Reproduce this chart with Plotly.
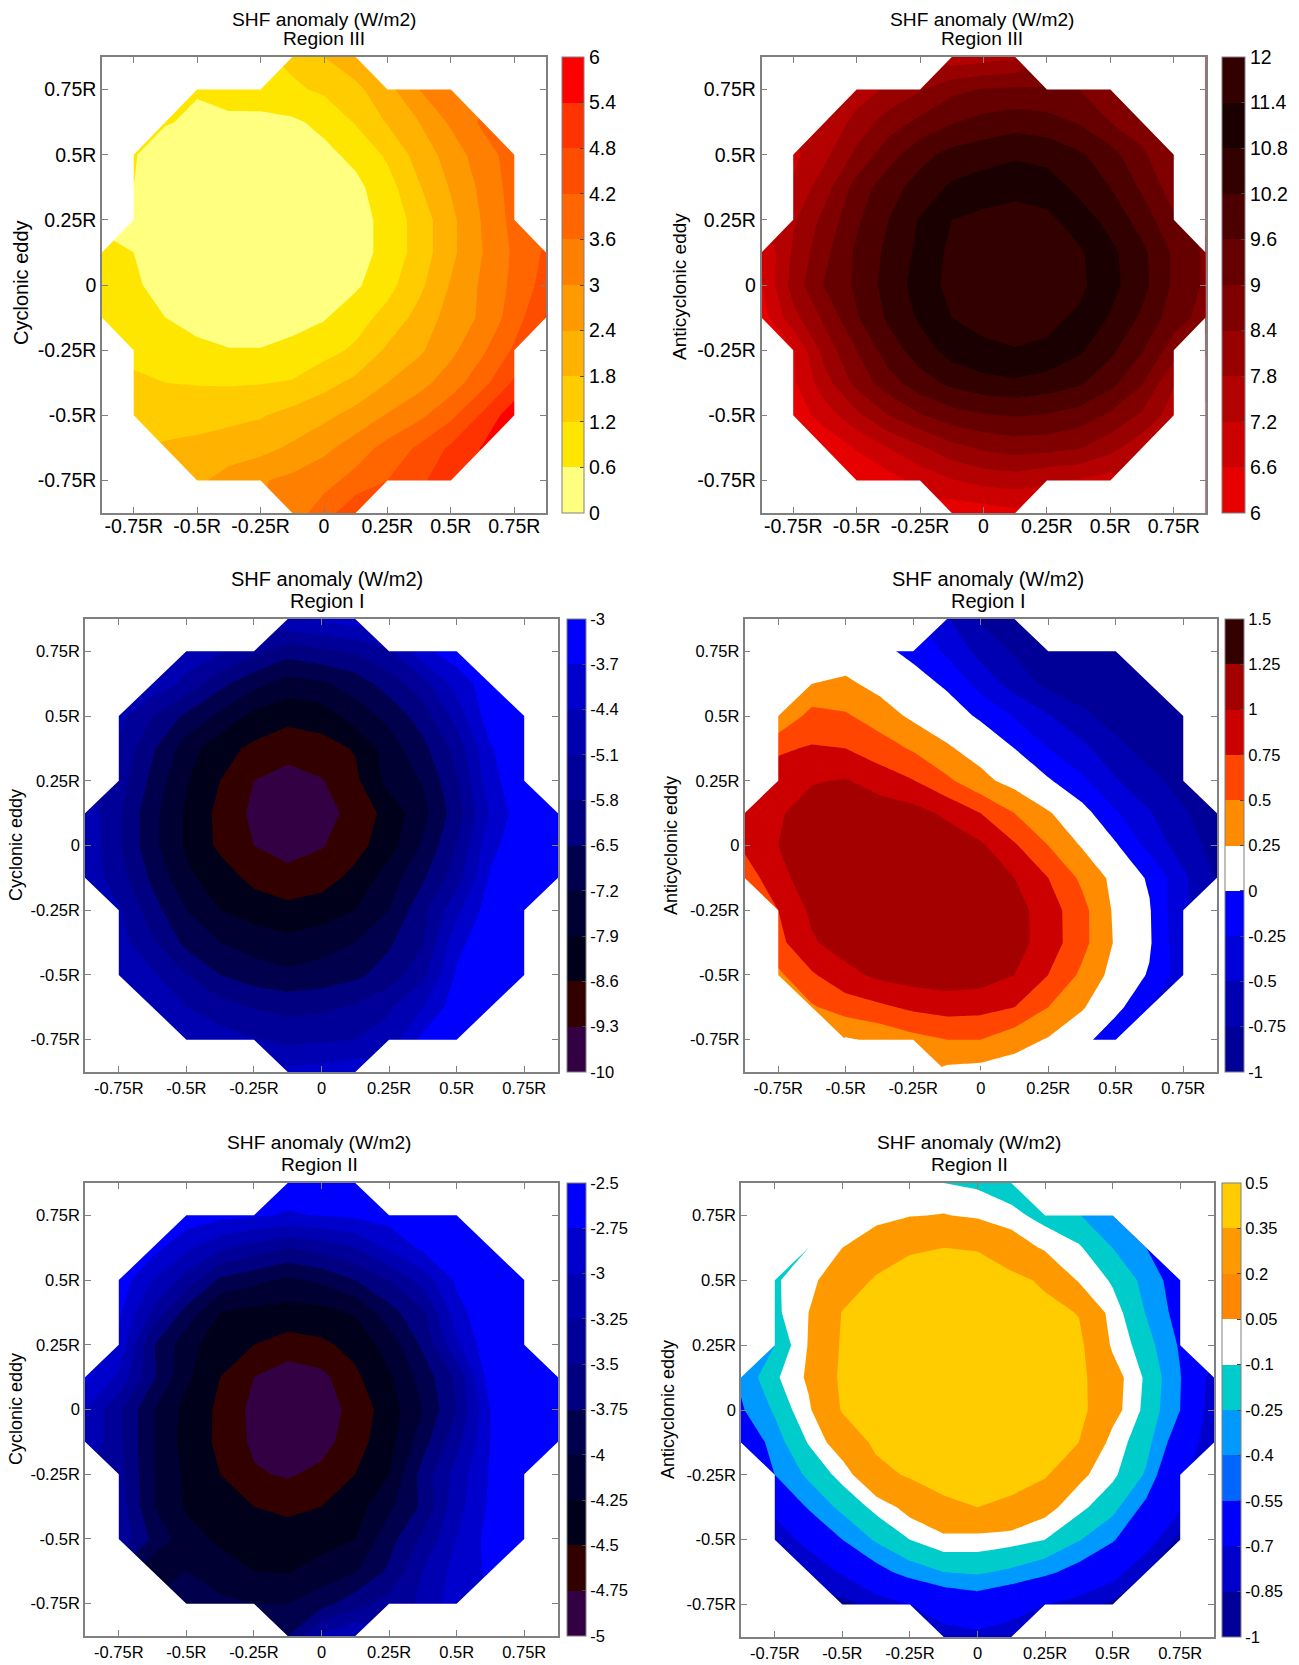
import plotly.graph_objects as go

W, H = 1299, 1665
FONT = "Liberation Sans"

grid = [-0.875, -0.75, -0.625, -0.5, -0.375, -0.25, -0.125, 0, 0.125, 0.25, 0.375, 0.5, 0.625, 0.75, 0.875]
row_start = [6, 3, 2, 1, 1, 1, 0, 0, 0, 1, 1, 1, 2, 3, 6]
tick_vals = [-0.75, -0.5, -0.25, 0, 0.25, 0.5, 0.75]
tick_text = ["-0.75R", "-0.5R", "-0.25R", "0", "0.25R", "0.5R", "0.75R"]
outline_x = [-0.125, -0.25, -0.5, -0.75, -0.75, -0.875, -0.875, -0.75, -0.75, -0.5, -0.25, -0.125, 0.125, 0.25, 0.5, 0.75, 0.75, 0.875, 0.875, 0.75, 0.75, 0.5, 0.25, 0.125, -0.125]
outline_y = [0.875, 0.75, 0.75, 0.5, 0.25, 0.125, -0.125, -0.25, -0.5, -0.75, -0.75, -0.875, -0.875, -0.75, -0.75, -0.5, -0.25, -0.125, 0.125, 0.25, 0.5, 0.75, 0.75, 0.875, 0.875]

cyc3 = [
 [1.35,1.8,2.2],
 [.62,.95,1.0,1.1,1.3,1.65,2.2,3.0,3.4],
 [.62,.55,.42,.4,.5,.75,1.25,1.85,2.4,3.1,3.7],
 [.62,.45,.35,.3,.3,.35,.45,.75,1.3,2.05,2.65,3.35,3.85],
 [.6,.35,.3,.25,.2,.25,.3,.45,.95,1.75,2.45,3.15,3.85],
 [.45,.3,.25,.2,.2,.2,.25,.35,.8,1.45,2.25,3.05,3.8],
 [.65,.6,.35,.25,.2,.2,.2,.25,.35,.8,1.45,2.25,3,3.7,4.3],
 [.9,.68,.4,.3,.25,.25,.3,.35,.5,1.0,1.65,2.45,3.1,3.75,4.45],
 [1.0,.85,.6,.45,.35,.35,.4,.55,.95,1.4,2.0,2.65,3.1,3.9,4.85],
 [1.05,.85,.7,.62,.62,.75,1.0,1.3,1.9,2.3,2.85,3.5,4.3],
 [1.3,1.2,1.17,1.15,1.17,1.25,1.6,1.95,2.4,2.8,3.3,4.0,4.9],
 [1.45,1.45,1.5,1.6,1.75,2.0,2.25,2.6,3.05,3.45,4.05,4.9,5.8],
 [1.9,2.0,2.15,2.2,2.5,2.85,3.3,3.8,4.3,4.9,5.45],
 [2.3,2.6,2.95,3.15,3.4,3.8,4.2,4.7,5.1],
 [3.3,3.9,4.7],
]
anti3 = [
 [7.4,7.55,7.7],
 [7.5,7.9,8.35,8.85,9.05,9.1,9.05,9,8.7],
 [7.3,8.0,8.7,9.15,9.55,9.8,9.95,9.85,9.55,9.0,8.7],
 [7.05,7.65,8.55,9.35,10.0,10.4,10.55,10.7,10.6,10.3,9.85,9.1,8.5],
 [7.3,8.15,9.25,9.95,10.45,10.9,11.1,11.25,11.1,10.65,10.2,9.5,8.7],
 [7.7,8.6,9.5,10.2,10.85,11.4,11.55,11.6,11.55,11.1,10.6,9.95,9.1],
 [6.6,7.9,8.85,9.7,10.35,10.95,11.55,11.65,11.7,11.65,11.5,10.95,10.35,9.5,8.9],
 [6.55,8.05,9.05,9.7,10.45,11.05,11.6,11.7,11.75,11.7,11.55,11.0,10.4,9.5,8.9],
 [6.3,7.6,8.55,9.55,10.3,10.9,11.4,11.55,11.6,11.55,11.3,10.75,10.1,9.3,8.75],
 [6.55,8.05,9.0,9.9,10.5,11.05,11.3,11.38,11.3,10.9,10.35,9.65,8.7],
 [6.5,7.55,8.6,9.35,9.95,10.35,10.6,10.7,10.55,10.3,9.8,9.05,7.85],
 [6.2,6.9,7.65,8.4,8.95,9.35,9.55,9.65,9.55,9.35,8.9,8.3,7.5],
 [6.1,6.65,7.2,7.7,8.2,8.5,8.65,8.6,8.45,8.0,7.4],
 [6.1,6.35,6.8,7.15,7.4,7.5,7.25,7.15,6.95],
 [6.2,6.3,6.45],
]
cyc1 = [
 [-4.5,-4.3,-4.0],
 [-4.7,-5.0,-5.6,-6.2,-5.95,-5.7,-5.2,-3.9,-3.3],
 [-4.6,-5.3,-6.3,-7.0,-7.5,-7.3,-6.9,-6.15,-5.4,-4.1,-3.3],
 [-4.9,-5.8,-6.65,-7.35,-8.1,-8.4,-8.3,-7.55,-7.0,-6.15,-4.8,-3.3,-3.2],
 [-5.2,-6.4,-7.55,-8.35,-8.75,-9.0,-8.85,-8.55,-7.55,-6.7,-5.55,-3.75,-3.2],
 [-5.45,-6.7,-7.85,-8.6,-9.3,-9.6,-9.35,-8.75,-7.65,-7.15,-5.9,-3.95,-3.1],
 [-4.6,-5.7,-7,-8,-8.8,-9.45,-9.8,-9.6,-9.05,-8.35,-7.4,-6.15,-4.3,-3.2,-3.1],
 [-4.6,-5.7,-7,-8,-8.75,-9.3,-9.6,-9.35,-8.85,-8.2,-7.1,-5.8,-3.9,-3.2,-3.1],
 [-4.6,-5.5,-6.65,-7.75,-8.25,-8.8,-9.05,-8.9,-8.4,-7.55,-6.6,-5.4,-3.6,-3.15,-3.05],
 [-5.0,-6.2,-7.2,-7.9,-8.2,-8.4,-8.25,-7.9,-7.2,-6.0,-4.6,-3.3,-3.1],
 [-4.8,-5.7,-6.7,-7.2,-7.5,-7.7,-7.5,-7.2,-6.6,-5.85,-3.9,-3.2,-3.1],
 [-4.6,-5.0,-5.8,-6.5,-6.85,-7.05,-6.9,-6.65,-6.2,-5.3,-3.6,-3.15,-3.05],
 [-4.6,-5.1,-5.5,-5.85,-6.0,-5.95,-5.7,-5.2,-4.4,-3.3,-3.1],
 [-4.5,-4.8,-5.05,-5.3,-5.2,-5.1,-4.8,-3.5,-3.1],
 [-4.2,-4.1,-3.9],
]
anti1 = [
 [-.48,-.78,-.85],
 [.1,.05,-.05,-.3,-.58,-.78,-.85,-.92,-.95],
 [.25,.3,.17,.08,-.03,-.35,-.6,-.82,-.88,-.93,-.96],
 [.25,.6,.53,.38,.2,.1,-.03,-.27,-.48,-.7,-.85,-.92,-.96],
 [.72,.77,.75,.62,.47,.28,.15,0,-.25,-.43,-.68,-.85,-.92],
 [.85,.98,1.02,.88,.76,.55,.32,.16,.03,-.2,-.48,-.68,-.85],
 [.85,.97,1.12,1.18,1.15,1.1,.95,.75,.5,.27,.1,-.22,-.48,-.72,-.9],
 [.8,1.0,1.15,1.2,1.2,1.2,1.15,1.04,.78,.5,.23,.03,-.33,-.62,-.85],
 [.6,.93,1.12,1.2,1.22,1.22,1.2,1.12,1.0,.75,.45,.17,-.03,-.45,-.78],
 [.75,1.05,1.18,1.22,1.22,1.22,1.15,1.1,.87,.58,.2,.02,-.48],
 [.68,.97,1.12,1.2,1.22,1.22,1.18,1.1,.88,.58,.22,.03,-.45],
 [.45,.72,.92,1.06,1.12,1.15,1.12,1.0,.75,.45,.15,-.02,-.38],
 [.47,.62,.7,.8,.85,.83,.75,.5,.27,.08,-.25],
 [.22,.3,.42,.5,.5,.35,.23,.1,-.2],
 [.18,.15,.12],
]
cyc2 = [
 [-2.65,-2.6,-2.55],
 [-2.6,-2.68,-2.72,-2.77,-2.74,-2.7,-2.65,-2.6,-2.55],
 [-2.65,-2.95,-3.2,-3.35,-3.5,-3.4,-3.25,-2.95,-2.7,-2.6,-2.55],
 [-2.6,-3.0,-3.35,-3.8,-3.93,-4.05,-3.95,-3.75,-3.5,-3.15,-2.7,-2.55,-2.5],
 [-2.7,-3.3,-3.85,-4.25,-4.32,-4.35,-4.33,-4.22,-3.85,-3.55,-2.85,-2.55,-2.5],
 [-2.8,-3.72,-4.15,-4.4,-4.5,-4.6,-4.55,-4.42,-4.15,-3.7,-3.05,-2.55,-2.5],
 [-2.7,-3.05,-3.7,-4.2,-4.5,-4.75,-4.9,-4.82,-4.55,-4.28,-3.9,-3.45,-2.6,-2.5,-2.5],
 [-3.0,-3.45,-3.98,-4.33,-4.55,-4.82,-4.95,-4.9,-4.65,-4.38,-4.0,-3.5,-2.75,-2.55,-2.5],
 [-3.0,-3.45,-3.98,-4.35,-4.55,-4.8,-4.95,-4.85,-4.6,-4.35,-3.85,-3.35,-2.75,-2.55,-2.5],
 [-3.4,-3.98,-4.3,-4.5,-4.72,-4.78,-4.68,-4.5,-4.25,-3.65,-3.15,-2.72,-2.55],
 [-3.35,-3.98,-4.28,-4.4,-4.5,-4.55,-4.5,-4.37,-4.05,-3.7,-3.1,-2.7,-2.55],
 [-3.3,-3.8,-4.15,-4.3,-4.36,-4.4,-4.35,-4.25,-3.85,-3.45,-3.0,-2.65,-2.5],
 [-4.2,-4.0,-4.12,-4.25,-4.27,-4.15,-4.02,-3.7,-3.25,-2.9,-2.7],
 [-3.85,-3.95,-4.0,-4.0,-3.85,-3.6,-3.4,-3.2,-2.85],
 [-3.75,-3.2,-3.0],
]
anti2 = [
 [-.1,-.13,-.2],
 [-.06,-.02,.04,.06,.02,-.05,-.16,-.24,-.4],
 [-.1,.05,.2,.33,.35,.34,.18,.02,-.08,-.25,-.4],
 [-.12,-.01,.2,.38,.42,.43,.43,.42,.31,.03,-.12,-.3,-.5],
 [-.14,.05,.36,.44,.45,.46,.46,.45,.42,.34,-.03,-.26,-.47],
 [-.25,.06,.38,.46,.47,.47,.47,.47,.45,.41,.02,-.19,-.42],
 [-.37,-.13,.08,.4,.48,.48,.48,.48,.48,.47,.42,.14,-.13,-.39,-.8],
 [-.42,-.23,.02,.37,.47,.48,.48,.48,.47,.46,.43,.13,-.15,-.4,-.82],
 [-.6,-.32,-.09,.17,.4,.46,.47,.47,.46,.44,.35,-.02,-.2,-.52,-.85],
 [-.4,-.22,-.05,.27,.38,.42,.43,.42,.38,.1,-.07,-.27,-.68],
 [-.65,-.38,-.21,-.06,.12,.31,.35,.31,.12,-.06,-.2,-.45,-.67],
 [-.8,-.65,-.4,-.23,-.1,-.01,-.02,-.05,-.1,-.24,-.38,-.6,-.9],
 [-.8,-.68,-.47,-.33,-.25,-.23,-.28,-.36,-.47,-.62,-.85],
 [-.9,-.8,-.7,-.58,-.52,-.6,-.7,-.78,-.88],
 [-.78,-.75,-.8],
]

colors_cyc3 = ["#FFFF80","#FFE600","#FFCC00","#FFB300","#FF9900","#FF8000","#FF6600","#FF4D00","#FF3300","#FF0000"]
colors_anti3 = ["#E60000","#CC0000","#B30000","#990000","#800000","#660000","#4D0000","#330000","#1A0000","#330000"]
colors_cyc = ["#330044","#330000","#00001A","#000033","#00004D","#000080","#000099","#0000B3","#0000CC","#0000FF"]
colors_anti1 = ["#000099","#0000B3","#0000D9","#0000FF","#FFFFFF","#FF8C00","#FF4500","#CC0000","#A50000","#330000"]
colors_anti2 = ["#000099","#0000CC","#0000FF","#0000FF","#0099FF","#00CCCC","#FFFFFF","#FF9900","#FF9900","#FFCC00"]
colors_anti2_bar = ["#000099","#0000CC","#0000FF","#0066FF","#0099FF","#00CCCC","#FFFFFF","#FF8800","#FF9900","#FFCC00"]

ticks_cyc3 = ["0","0.6","1.2","1.8","2.4","3","3.6","4.2","4.8","5.4","6"]
ticks_anti3 = ["6","6.6","7.2","7.8","8.4","9","9.6","10.2","10.8","11.4","12"]
ticks_cyc1 = ["-10","-9.3","-8.6","-7.9","-7.2","-6.5","-5.8","-5.1","-4.4","-3.7","-3"]
ticks_anti1 = ["-1","-0.75","-0.5","-0.25","0","0.25","0.5","0.75","1","1.25","1.5"]
ticks_cyc2 = ["-5","-4.75","-4.5","-4.25","-4","-3.75","-3.5","-3.25","-3","-2.75","-2.5"]
ticks_anti2 = ["-1","-0.85","-0.7","-0.55","-0.4","-0.25","-0.1","0.05","0.2","0.35","0.5"]

# pixel boxes: axes left, right, top, bottom, colourbar left, right
panels = [
 dict(z=cyc3, c=colors_cyc3, t=ticks_cyc3, s=0, e=6, d=.6, box=(102,546,57,513,562,584), tx=324, ty=(19,39), lab="Cyclonic eddy", lx=21, ly=283, reg="Region III", fs=19.5, ts=19.2, ls=20, xo=-5),
 dict(z=anti3, c=colors_anti3, t=ticks_anti3, s=6, e=12, d=.6, box=(761.5,1205.5,57,513,1222,1245), tx=982, ty=(19,39), lab="Anticyclonic eddy", lx=680, ly=287, reg="Region III", fs=19.5, ts=19.2, ls=19, xo=-5),
 dict(z=cyc1, c=colors_cyc, t=ticks_cyc1, s=-10, e=-3, d=.7, box=(85,558,619,1072,567,586), tx=327, ty=(579,601), lab="Cyclonic eddy", lx=16, ly=845, reg="Region I", fs=16.5, ts=20, ls=18, xo=0),
 dict(z=anti1, c=colors_anti1, t=ticks_anti1, s=-1, e=1.5, d=.25, box=(744.5,1217,619,1072,1225,1244), tx=988, ty=(579,601), lab="Anticyclonic eddy", lx=671, ly=846, reg="Region I", fs=16.5, ts=20, ls=18, xo=0),
 dict(z=cyc2, c=colors_cyc, t=ticks_cyc2, s=-5, e=-2.5, d=.25, box=(85,558,1183,1636,567,586), tx=319, ty=(1142,1164), lab="Cyclonic eddy", lx=16, ly=1409, reg="Region II", fs=16.5, ts=19.2, ls=18, xo=0),
 dict(z=anti2, c=colors_anti2, cb=colors_anti2_bar, t=ticks_anti2, s=-1, e=.5, d=.15, box=(741,1214,1183,1637,1222,1241), tx=969, ty=(1142,1164), lab="Anticyclonic eddy", lx=668, ly=1410, reg="Region II", fs=16.5, ts=19.2, ls=18, xo=0),
]

def full_rows(rows):
    out = []
    for start, row in zip(row_start, rows):
        assert start * 2 + len(row) == 15, (start, row)
        out.append([None] * start + list(row) + [None] * (15 - start - len(row)))
    return out[::-1]  # bottom row first, matching the ascending grid

def band_scale(cols):
    # contour fills take the colour at each band's midpoint
    n = len(cols)
    steps = [[0, cols[0]]]
    for k, col in enumerate(cols):
        steps.append([(k + 1) / (n + 1), col])
    steps.append([1, cols[-1]])
    return steps

def bar_scale(cols):
    # hard-edged steps, so the colour bar shows discrete bands between exact limits
    n = len(cols)
    steps = []
    for k, col in enumerate(cols):
        steps += [[k / n, col], [(k + 1) / n, col]]
    return steps

def px(x):
    return x / W

def py(y):
    return 1 - y / H

fig = go.Figure()
axes = {}
notes = []

mask_x = [-0.875, 0.875, 0.875, -0.875, -0.875] + outline_x + [-0.875]
mask_y = [0.875, 0.875, -0.875, -0.875, 0.875] + outline_y + [0.875]

for i, p in enumerate(panels, start=1):
    l, r, t, b, cl, cr = p["box"]
    xa, ya = f"x{i}", f"y{i}"
    level_vals = [p["s"] + k * p["d"] for k in range(len(p["t"]))]
    z = full_rows(p["z"])
    bar = dict(
        x=px(cl), xanchor="left", xpad=0, y=py(b), yanchor="bottom", ypad=0,
        len=(b - t) / H, lenmode="fraction", thickness=cr - cl, thicknessmode="pixels",
        tickmode="array", tickvals=level_vals, ticktext=p["t"],
        ticks="inside", ticklen=4, tickcolor="#444444", tickwidth=1,
        tickfont=dict(family=FONT, size=p["fs"], color="black"),
        outlinecolor="#808080", outlinewidth=1, borderwidth=0,
    )
    # colour bar carrier: lies fully under the contour fill
    fig.add_trace(go.Heatmap(x=grid, y=grid, z=z, zmin=p["s"], zmax=p["e"], xaxis=xa, yaxis=ya,
                             colorscale=bar_scale(p.get("cb", p["c"])), showscale=True, colorbar=bar, hoverinfo="skip"))
    fig.add_trace(go.Contour(
        x=grid, y=grid, z=z, connectgaps=True, xaxis=xa, yaxis=ya,
        autocontour=False, hoverinfo="skip", showscale=False,
        colorscale=band_scale(p["c"]),
        contours=dict(start=p["s"], end=p["e"], size=p["d"], coloring="fill", showlines=False),
        line=dict(width=0, smoothing=0),
    ))
    fig.add_trace(go.Scatter(x=mask_x, y=mask_y, mode="lines", line=dict(width=0), fill="toself",
                             fillcolor="white", xaxis=xa, yaxis=ya, hoverinfo="skip", showlegend=False))
    common_axis = dict(
        range=[-0.875, 0.875], tickmode="array", tickvals=tick_vals, ticktext=tick_text,
        ticks="inside", ticklen=6, tickcolor="#808080", tickwidth=1,
        showgrid=False, zeroline=False, showline=True, linecolor="#808080", linewidth=1.5, mirror="ticks",
        tickfont=dict(family=FONT, size=p["fs"], color="black"),
    )
    axes[f"xaxis{i}"] = dict(domain=[px(l), px(r)], anchor=ya, ticklabelstandoff=p["xo"], **common_axis)
    axes[f"yaxis{i}"] = dict(domain=[py(b), py(t)], anchor=xa, **common_axis)
    for text, yy in zip(["SHF anomaly (W/m2)", p["reg"]], p["ty"]):
        notes.append(dict(text=text, x=px(p["tx"]), y=py(yy), xref="paper", yref="paper", xanchor="center",
                          yanchor="middle", showarrow=False, font=dict(family=FONT, size=p["ts"], color="black")))
    notes.append(dict(text=p["lab"], x=px(p["lx"]), y=py(p["ly"]), xref="paper", yref="paper", xanchor="center",
                      yanchor="middle", textangle=-90, showarrow=False, font=dict(family=FONT, size=p["ls"], color="black")))

fig.update_layout(
    width=W, height=H, margin=dict(l=0, r=0, t=0, b=0), paper_bgcolor="white", plot_bgcolor="white",
    showlegend=False, annotations=notes,
    shapes=[dict(type="line", xref="x4", yref="y4", x0=-0.125, x1=0.125, y0=-0.875, y1=-0.875,
                 line=dict(color="white", width=3), layer="above")],
    **axes,
)
fig.write_html("out.html", config={"displayModeBar": False},
               post_script="document.body.style.margin='0';")
